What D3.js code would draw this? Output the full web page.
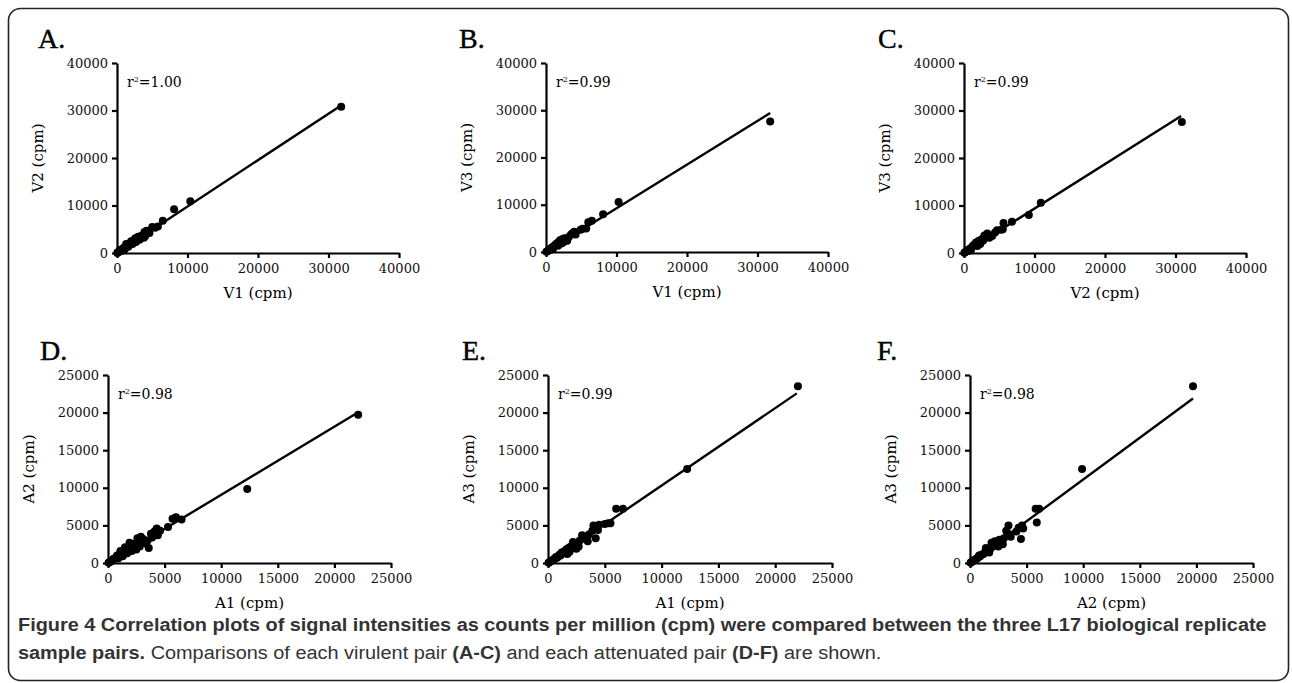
<html>
<head>
  <script src="https://d3js.org/d3.v7.min.js"></script>
  <style>
    body { margin: 0; background: #fff; }
  </style>
</head>
<body>
  <svg id="fig" width="1292" height="683"></svg>
  <script>

    // ---- data (cpm) ----
    const pointsA = [[31800, 30800], [10400, 10900], [8100, 9200], [6500, 6800], [5800, 5600], [5400, 5300],
      [5000, 5500], [4200, 4700], [3900, 4400], [3800, 3200], [3500, 3700], [3000, 3400], [2800, 2900],
      [2500, 2800], [2300, 2600], [2000, 2500], [1800, 2000], [1500, 1700], [1300, 1900], [1200, 1300],
      [1000, 1100], [800, 900], [600, 700], [500, 400], [300, 350], [200, 150], [100, 100], [50, 30],
      [700, 500], [1600, 1300], [2200, 1900], [2700, 2300], [3200, 2800], [4000, 3600], [4600, 4200],
      [1100, 800], [400, 600], [2600, 3100]];
    const pointsB = [[31800, 27600], [10300, 10600], [8100, 8000], [6500, 6600], [6000, 6300], [5700, 5000],
      [5200, 4900], [4900, 4700], [4000, 4300], [3700, 3900], [3500, 3600], [3200, 3100], [2900, 2800],
      [2600, 2900], [2300, 2700], [2000, 2500], [1800, 2100], [1500, 1800], [1300, 1500], [1100, 1200],
      [900, 1000], [700, 800], [500, 600], [300, 300], [150, 120], [50, 40], [1700, 1300], [2500, 2100],
      [3000, 2400], [4200, 3700], [1000, 700], [600, 400], [2200, 1800]];
    const pointsC = [[30900, 27600], [10900, 10600], [9200, 8000], [6800, 6600], [5600, 6300], [5500, 5000],
      [5300, 4900], [4700, 4800], [4400, 4300], [3300, 4100], [3200, 3600], [2900, 3700], [2800, 3000],
      [2700, 2600], [2500, 2900], [2100, 2600], [2000, 2200], [1700, 2200], [1500, 1800], [1300, 1600],
      [1100, 1200], [900, 900], [700, 800], [500, 500], [300, 350], [150, 150], [50, 40], [3600, 3200],
      [2300, 1900], [1900, 1500], [1000, 700], [600, 400], [4000, 3600]];
    const pointsD = [[22100, 19700], [12300, 9850], [6500, 5800], [6000, 6100], [5700, 5900], [5300, 4800],
      [4600, 4300], [4300, 4600], [4100, 4200], [3800, 3900], [3900, 3400], [3600, 2000], [3100, 3200],
      [2900, 3500], [2700, 2800], [2600, 3300], [2400, 2600], [2200, 2500], [2000, 2200], [1900, 2700],
      [1800, 1900], [1600, 1700], [1500, 2100], [1400, 1500], [1200, 1300], [1100, 1600], [1000, 1100],
      [900, 900], [800, 1000], [700, 700], [600, 600], [500, 550], [400, 350], [300, 300], [200, 180],
      [100, 80], [50, 40], [2500, 1800], [2100, 1600], [1700, 1300], [3300, 2600], [2800, 2200],
      [1300, 900], [900, 600], [3500, 3000], [4400, 3700]];
    const pointsE = [[22000, 23500], [12250, 12500], [6600, 7200], [6000, 7200], [5500, 5300], [5000, 5200],
      [4500, 5100], [4000, 5000], [4200, 3300], [3900, 4300], [3600, 3800], [3300, 3200], [3000, 3700],
      [2800, 3000], [2600, 2700], [2500, 1900], [2300, 2500], [2200, 2800], [2000, 2200], [1900, 1500],
      [1800, 2000], [1600, 1800], [1500, 1300], [1400, 1500], [1200, 1400], [1100, 1000], [1000, 1100],
      [900, 900], [800, 700], [700, 800], [600, 550], [500, 500], [400, 350], [300, 300], [200, 200],
      [100, 80], [50, 40], [3500, 2900], [2700, 2200], [1700, 1200], [4400, 4400], [5300, 5300]];
    const pointsF = [[19700, 23500], [9900, 12500], [6100, 7200], [5800, 7200], [5900, 5400], [4600, 5000],
      [4500, 3200], [4300, 4700], [4100, 4200], [3400, 5000], [3200, 4300], [3300, 4000], [3000, 3300],
      [2800, 2900], [2600, 3100], [2400, 2700], [2200, 2900], [2100, 2400], [2000, 2200], [1900, 2700],
      [1800, 1900], [1600, 1800], [1500, 1600], [1400, 2000], [1300, 1400], [1200, 1200], [1000, 1100],
      [900, 900], [800, 1000], [700, 700], [600, 600], [500, 500], [400, 400], [300, 280], [200, 200],
      [100, 100], [50, 40], [2900, 2500], [2500, 2200], [3600, 3500], [4700, 4600], [1700, 1400]];

    const panelLetters = ["A.", "B.", "C.", "D.", "E.", "F."];
    const xTitles = ["V1 (cpm)", "V1 (cpm)", "V2 (cpm)", "A1 (cpm)", "A1 (cpm)", "A2 (cpm)"];
    const yTitles = ["V2 (cpm)", "V3 (cpm)", "V3 (cpm)", "A2 (cpm)", "A3 (cpm)", "A3 (cpm)"];
    const r2Values = ["1.00", "0.99", "0.99", "0.98", "0.99", "0.98"];
    // fitted line: slope and x where the line stops
    const fitSlopes = [0.978, 0.925, 0.936, 0.907, 1.03, 1.11];
    const fitEnds = [31400, 31800, 30800, 22000, 21900, 19700];
    const ticksV = [0, 10000, 20000, 30000, 40000];
    const ticksA = [0, 5000, 10000, 15000, 20000, 25000];

    const allPoints = [pointsA, pointsB, pointsC, pointsD, pointsE, pointsF];

    // axis origin / size of each panel in the page
    const layout = [
      { ox: 117, oy: 253, w: 282, h: 190, lx: 38, ly: 48 },
      { ox: 546, oy: 252, w: 282, h: 189, lx: 459, ly: 48 },
      { ox: 964, oy: 253, w: 282, h: 190, lx: 878, ly: 48 },
      { ox: 108, oy: 563, w: 283, h: 188, lx: 40, ly: 360 },
      { ox: 548, oy: 563, w: 284, h: 188, lx: 462, ly: 360 },
      { ox: 970, oy: 563, w: 283, h: 188, lx: 877, ly: 360 }
    ];

    const svg = d3.select("#fig");

    svg.append("rect")
      .attr("x", 8.5).attr("y", 8.5)
      .attr("width", 1280).attr("height", 672)
      .attr("rx", 12)
      .attr("fill", "none")
      .attr("stroke", "#222")
      .attr("stroke-width", 1.6);

    allPoints.forEach(function (pts, i) {
      const L = layout[i];
      const ticks = i < 3 ? ticksV : ticksA;
      const max = ticks[ticks.length - 1];

      const x = d3.scaleLinear().domain([0, max]).range([0, L.w]);
      const y = d3.scaleLinear().domain([0, max]).range([0, -L.h]);

      const g = svg.append("g").attr("transform", "translate(" + L.ox + "," + L.oy + ")");

      svg.append("text")
        .attr("x", L.lx).attr("y", L.ly)
        .style("font-family", "'Liberation Serif', serif")
        .style("font-size", "28px")
        .attr("stroke", "#000").attr("stroke-width", 0.4)
        .text(panelLetters[i]);

      const xAxis = g.append("g")
        .call(d3.axisBottom(x).tickValues(ticks).tickSize(5).tickSizeOuter(0).tickPadding(6).tickFormat(d3.format("d")));
      const yAxis = g.append("g")
        .call(d3.axisLeft(y).tickValues(ticks).tickSize(5).tickSizeOuter(0).tickPadding(4).tickFormat(d3.format("d")));

      [xAxis, yAxis].forEach(function (a) {
        a.select(".domain").attr("stroke", "#000").attr("stroke-width", 2.2);
        a.selectAll(".tick line").attr("stroke", "#000").attr("stroke-width", 2.2);
        a.selectAll(".tick text")
          .attr("fill", "#111")
          .style("font-family", "'DejaVu Serif', serif")
          .style("font-size", "13px");
      });

      g.append("text")
        .attr("x", L.w / 2).attr("y", 45)
        .attr("text-anchor", "middle")
        .style("font-family", "'DejaVu Serif', serif")
        .style("font-size", "15px")
        .text(xTitles[i]);

      g.append("text")
        .attr("transform", "translate(-74," + (-L.h / 2) + ") rotate(-90)")
        .attr("text-anchor", "middle")
        .style("font-family", "'DejaVu Serif', serif")
        .style("font-size", "15px")
        .text(yTitles[i]);

      const r2 = g.append("text")
        .attr("x", 10).attr("y", -L.h + 24)
        .style("font-family", "'DejaVu Serif', serif")
        .style("font-size", "14px");
      r2.append("tspan").text("r");
      r2.append("tspan").attr("dy", -5).style("font-size", "8px").text("2");
      r2.append("tspan").attr("dy", 5).text("=" + r2Values[i]);

      g.selectAll("circle").data(pts)
        .join("circle")
        .attr("cx", d => x(d[0]))
        .attr("cy", d => y(d[1]))
        .attr("r", 4)
        .attr("fill", "#000");

      g.append("line")
        .attr("x1", x(0)).attr("y1", y(0))
        .attr("x2", x(fitEnds[i])).attr("y2", y(fitEnds[i] * fitSlopes[i]))
        .attr("stroke", "#000")
        .attr("stroke-width", 2.4);
    });

    // caption
    const cap = svg.append("g").attr("class", "caption");
    const capStyle = function (t) {
      t.style("font-family", "'Liberation Sans Narrow', 'Liberation Sans', sans-serif")
        .style("font-size", "19px")
        .attr("fill", "#333");
    };
    const line1 = cap.append("text").attr("x", 0).attr("y", 631).call(capStyle);
    line1.append("tspan").style("font-weight", "bold")
      .text("Figure 4 Correlation plots of signal intensities as counts per million (cpm) were compared between the three L17 biological replicate");
    const line2 = cap.append("text").attr("x", 0).attr("y", 659).call(capStyle);
    line2.append("tspan").style("font-weight", "bold").text("sample pairs.");
    line2.append("tspan").text(" Comparisons of each virulent pair ");
    line2.append("tspan").style("font-weight", "bold").text("(A-C)");
    line2.append("tspan").text(" and each attenuated pair ");
    line2.append("tspan").style("font-weight", "bold").text("(D-F)");
    line2.append("tspan").text(" are shown.");

    const w1 = line1.node().getComputedTextLength();
    const sx = 1250 / w1;
    cap.attr("transform", "translate(18,0) scale(" + sx + ",1)");

  </script>
</body>
</html>
